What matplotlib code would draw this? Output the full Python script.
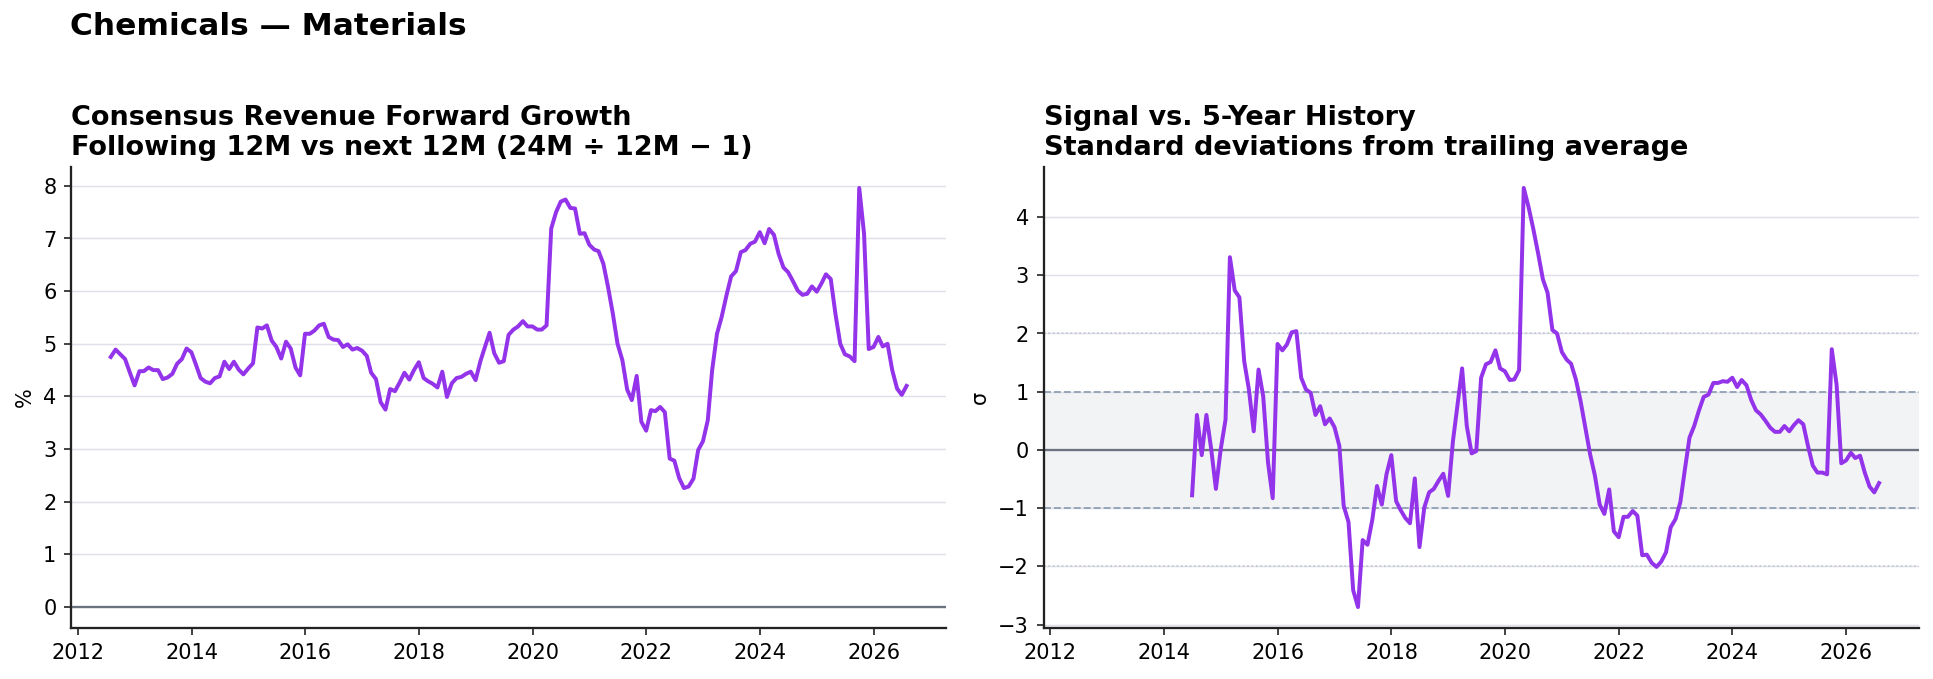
import numpy as np
import pandas as pd
import matplotlib.pyplot as plt
import matplotlib.dates as mdates

# monthly observations, Jul 2012 onwards
dates = pd.date_range('2012-07-31', periods=169, freq='ME')

growth = [
    4.75, 4.89, 4.80, 4.71, 4.46, 4.21, 4.48, 4.48, 4.55, 4.50,
    4.50, 4.33, 4.36, 4.43, 4.62, 4.71, 4.91, 4.84, 4.59, 4.35,
    4.28, 4.25, 4.35, 4.38, 4.66, 4.52, 4.66, 4.51, 4.42, 4.53,
    4.63, 5.31, 5.29, 5.35, 5.06, 4.94, 4.72, 5.04, 4.91, 4.55,
    4.40, 5.19, 5.19, 5.25, 5.35, 5.38, 5.13, 5.08, 5.07, 4.94,
    4.99, 4.89, 4.92, 4.87, 4.77, 4.45, 4.33, 3.89, 3.75, 4.14,
    4.10, 4.27, 4.45, 4.32, 4.50, 4.65, 4.35, 4.29, 4.24, 4.17,
    4.47, 3.99, 4.25, 4.35, 4.37, 4.43, 4.47, 4.31, 4.67, 4.93,
    5.21, 4.82, 4.64, 4.67, 5.17, 5.27, 5.33, 5.43, 5.33, 5.33,
    5.27, 5.27, 5.35, 7.19, 7.50, 7.70, 7.74, 7.58, 7.57, 7.09,
    7.10, 6.88, 6.79, 6.76, 6.52, 6.08, 5.57, 5.00, 4.69, 4.13,
    3.93, 4.39, 3.52, 3.35, 3.74, 3.72, 3.80, 3.70, 2.82, 2.78,
    2.45, 2.26, 2.29, 2.44, 2.98, 3.15, 3.55, 4.50, 5.19, 5.51,
    5.92, 6.28, 6.38, 6.74, 6.78, 6.90, 6.94, 7.12, 6.91, 7.18,
    7.07, 6.71, 6.45, 6.36, 6.19, 6.01, 5.93, 5.95, 6.09, 5.99,
    6.15, 6.32, 6.23, 5.57, 5.00, 4.80, 4.76, 4.67, 7.96, 7.09,
    4.90, 4.94, 5.13, 4.95, 5.00, 4.50, 4.15, 4.03, 4.20,
]

# z-score vs trailing history, available from the 24th month
zscore = [np.nan] * 23 + [
    -0.78, 0.60, -0.09, 0.60, 0.01, -0.67, 0.01, 0.52, 3.31, 2.74,
    2.62, 1.52, 1.04, 0.32, 1.38, 0.92, -0.22, -0.83, 1.82, 1.71,
    1.81, 2.02, 2.04, 1.24, 1.04, 0.98, 0.60, 0.75, 0.44, 0.54,
    0.39, 0.07, -0.96, -1.24, -2.41, -2.70, -1.55, -1.63, -1.20, -0.62,
    -0.94, -0.42, -0.09, -0.88, -1.03, -1.17, -1.26, -0.49, -1.67, -0.99,
    -0.73, -0.67, -0.53, -0.41, -0.79, 0.15, 0.75, 1.40, 0.41, -0.06,
    -0.02, 1.24, 1.47, 1.51, 1.71, 1.40, 1.35, 1.20, 1.21, 1.37,
    4.50, 4.17, 3.80, 3.38, 2.93, 2.70, 2.06, 2.00, 1.68, 1.55,
    1.48, 1.21, 0.84, 0.38, -0.07, -0.44, -0.94, -1.10, -0.68, -1.40,
    -1.50, -1.15, -1.15, -1.05, -1.13, -1.81, -1.80, -1.94, -2.01, -1.92,
    -1.76, -1.33, -1.19, -0.90, -0.36, 0.21, 0.41, 0.68, 0.91, 0.95,
    1.15, 1.15, 1.18, 1.17, 1.24, 1.08, 1.20, 1.11, 0.86, 0.68,
    0.61, 0.50, 0.38, 0.31, 0.31, 0.41, 0.32, 0.43, 0.51, 0.44,
    0.07, -0.27, -0.39, -0.39, -0.42, 1.73, 1.12, -0.23, -0.18, -0.05,
    -0.14, -0.10, -0.39, -0.63, -0.73, -0.57,
]

purple = '#9333ea'
grey = '#6b7280'
band = '#94a3b8'

fig, (ax1, ax2) = plt.subplots(1, 2, figsize=(12.893, 4.527), dpi=150, sharex=True)
fig.subplots_adjust(left=0.0367, right=0.9922, bottom=0.0751, top=0.754, wspace=0.111)

fig.text(0.036, 0.982, 'Chemicals — Materials', fontsize=15, fontweight='bold',
         ha='left', va='top')

# left: forward growth
ax1.plot(dates, growth, color=purple, lw=1.9, zorder=3)
ax1.axhline(0, color=grey, lw=1.1, zorder=2)
ax1.set_ylabel('%')
ax1.set_title('Consensus Revenue Forward Growth\nFollowing 12M vs next 12M (24M ÷ 12M − 1)',
              loc='left', fontsize=13, fontweight='bold')

# right: signal vs history
ax2.axhspan(-1, 1, color=band, alpha=0.13, lw=0, zorder=0)
ax2.axhline(1, color=band, ls='--', lw=0.9, zorder=1)
ax2.axhline(-1, color=band, ls='--', lw=0.9, zorder=1)
ax2.axhline(2, color=band, ls=':', lw=0.8, alpha=0.5, zorder=1)
ax2.axhline(-2, color=band, ls=':', lw=0.8, alpha=0.5, zorder=1)
ax2.axhline(0, color=grey, lw=1.1, zorder=2)
ax2.plot(dates, zscore, color=purple, lw=1.9, zorder=3)
ax2.set_ylabel('σ')
ax2.set_title('Signal vs. 5-Year History\nStandard deviations from trailing average',
              loc='left', fontsize=13, fontweight='bold')

for ax in (ax1, ax2):
    ax.grid(axis='y', color='#e0e0e8', lw=0.7, zorder=0)
    ax.set_axisbelow(True)
    ax.spines['top'].set_visible(False)
    ax.spines['right'].set_visible(False)
    ax.spines['left'].set_color('#222222')
    ax.spines['bottom'].set_color('#222222')
    ax.spines['left'].set_linewidth(1.1)
    ax.spines['bottom'].set_linewidth(1.1)
    ax.tick_params(colors='#222222', labelcolor='black', labelsize=10)
    ax.xaxis.set_major_locator(mdates.YearLocator(2))
    ax.xaxis.set_major_formatter(mdates.DateFormatter('%Y'))
    ax.tick_params(axis='x', labelbottom=True)

plt.savefig('out.png', dpi=150)
